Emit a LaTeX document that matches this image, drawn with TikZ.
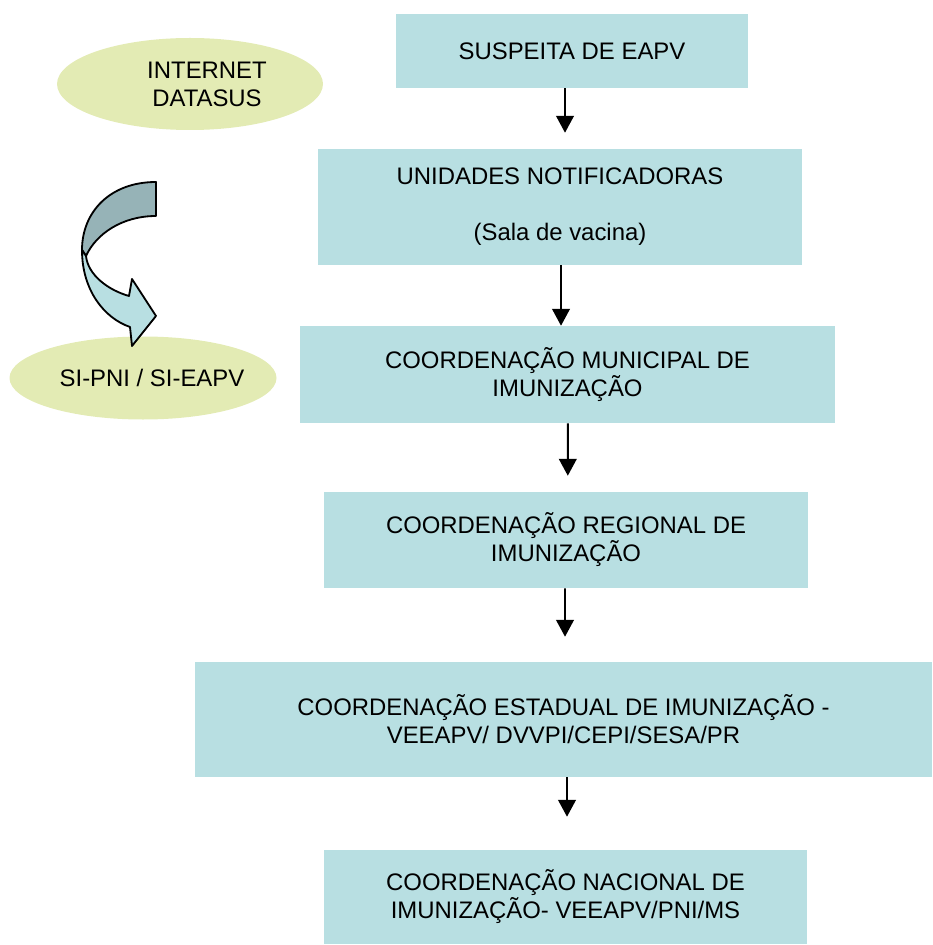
\documentclass[tikz,border=0pt]{standalone}
\usepackage{fontspec}
\setmainfont{Liberation Sans}
\usepackage{tikz}
\usetikzlibrary{arrows.meta,calc,shapes.geometric}

\definecolor{boxcol}{RGB}{184,223,226}
\definecolor{ovalcol}{RGB}{227,235,180}
\definecolor{turncol}{RGB}{150,179,183}

\tikzset{
  flowbox/.style={fill=boxcol, inner sep=0pt, align=center, font=\fontsize{17}{19.9}\selectfont},
  oval/.style={ellipse, fill=ovalcol, inner sep=0pt},
  ovaltext/.style={align=center, font=\fontsize{17}{19.9}\selectfont},
  flow/.style={line width=1.4pt, -{Triangle[length=4.2mm,width=4.4mm]}}
}

\begin{document}
\begin{tikzpicture}[x=0.025cm,y=-0.025cm]
\useasboundingbox (0,0) rectangle (932,945);

\node[flowbox, minimum width=352*0.025cm, minimum height=74*0.025cm] (susp) at (572,51) {SUSPEITA DE EAPV};
\node[flowbox, minimum width=484*0.025cm, minimum height=116*0.025cm] (unid) at (560,207) {UNIDADES NOTIFICADORAS\\[0.7cm](Sala de vacina)};
\node[flowbox, minimum width=535*0.025cm, minimum height=97*0.025cm] (munic) at (567.5,374.5) {COORDENAÇÃO MUNICIPAL DE\\IMUNIZAÇÃO};
\node[flowbox, minimum width=484*0.025cm, minimum height=96*0.025cm] (regio) at (566,540) {COORDENAÇÃO REGIONAL DE\\IMUNIZAÇÃO};
\node[flowbox, minimum width=737*0.025cm, minimum height=115*0.025cm] (estad) at (563.5,719.5) {COORDENAÇÃO ESTADUAL DE IMUNIZAÇÃO -\\VEEAPV/ DVVPI/CEPI/SESA/PR};
\node[flowbox, minimum width=483*0.025cm, minimum height=94*0.025cm] (nacio) at (565.5,897) {COORDENAÇÃO NACIONAL DE\\IMUNIZAÇÃO- VEEAPV/PNI/MS};

\draw[flow, shorten >=16*0.025cm] ($(susp.south)+(-7,0)$) -- ($(unid.north)+(5,0)$);
\draw[flow] ($(unid.south)+(1,0)$) -- ($(munic.north)+(-6.5,0)$);
\draw[flow, shorten >=16*0.025cm] ($(munic.south)+(0.3,0)$) -- ($(regio.north)+(1.8,0)$);
\draw[flow, shorten >=25*0.025cm] ($(regio.south)+(-1,0)$) -- ($(estad.north)+(1.5,0)$);
\draw[flow, shorten >=33*0.025cm] ($(estad.south)+(3.5,0)$) -- ($(nacio.north)+(1.5,0)$);

% ovais do sistema
\node[oval, minimum width=266*0.025cm, minimum height=92*0.025cm] (inet) at (190,84) {};
\node[ovaltext] (inettxt) at (207,84) {INTERNET\\DATASUS};
\node[oval, minimum width=267*0.025cm, minimum height=83*0.025cm] (sipni) at (143,378) {};
\node[ovaltext] (sipnitxt) at (152,378) {SI-PNI / SI-EAPV};

% seta curva
\filldraw[fill=turncol, line width=1.3pt, line join=round] (156,182) .. controls (110,182) and (82,212) .. (82,250) -- (86,256) .. controls (96,234) and (122,216) .. (156,216) -- cycle;
\filldraw[fill=boxcol, line width=1.3pt, line join=round] (82,250) .. controls (82,290) and (104,318) .. (130,327) -- (132,346) -- (156,316) -- (132,279) -- (129,296) .. controls (108,290) and (88,275) .. (86,256) -- cycle;

\end{tikzpicture}
\end{document}
